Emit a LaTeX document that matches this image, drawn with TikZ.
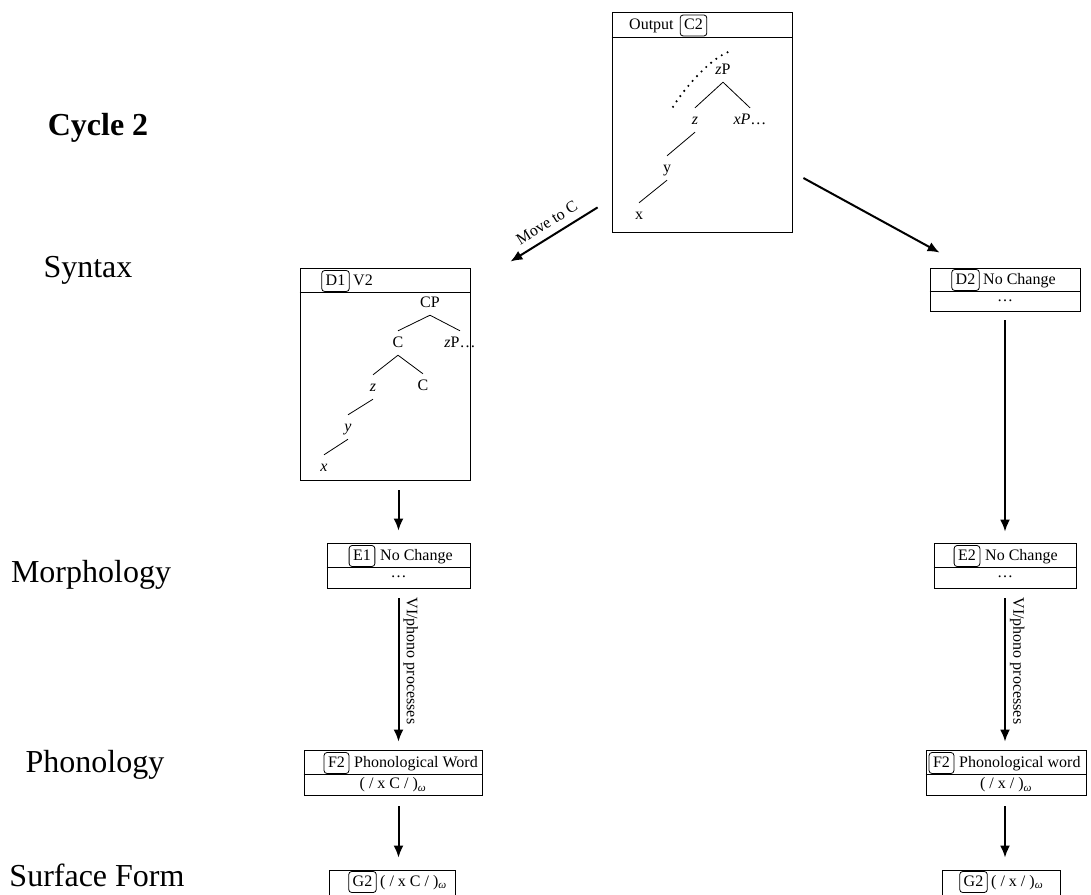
\documentclass[tikz,border=0pt]{standalone}
\usepackage{fontspec}
\setmainfont{Liberation Serif}
\usetikzlibrary{arrows.meta,calc}
\begin{document}
\begin{tikzpicture}[x=1pt,y=-1pt,
  every node/.style={font=\fontsize{16}{19}\selectfont},
  panel/.style={draw, line width=0.8pt, inner sep=0pt},
  divider/.style={line width=0.8pt},
  tagbox/.style={draw, line width=0.8pt, rounded corners=3pt, inner xsep=4pt, inner ysep=0pt, minimum height=21pt, text height=11pt, text depth=3pt},
  hdr/.style={anchor=west, inner sep=0pt, text height=11pt, text depth=3pt},
  tree/.style={inner xsep=0pt, inner ysep=5pt, text height=11pt, text depth=3pt},
  branch/.style={line width=0.8pt},
  arr/.style={line width=2pt, -{Latex[length=12pt,width=10pt]}},
  side/.style={font=\fontsize{32}{38}\selectfont},
  arrlabel/.style={font=\fontsize{16}{19}\selectfont}]
\useasboundingbox (0,0) rectangle (1091,894);

% side labels
\node[side] (cyc) at (98,128) {\textbf{Cycle 2}};
\node[side] (syn) at (88,270) {Syntax};
\node[side] (mor) at (91,575) {Morphology};
\node[side] (pho) at (95,765) {Phonology};
\node[side] (sur) at (97,875) {Surface Form};

% ---- C2 output box
\node[panel, minimum width=180pt, minimum height=220pt] (C2box) at (702,122) {};
\draw[divider] ($(C2box.north west)+(0,26)$) -- ($(C2box.north east)+(0,26)$);
\node[hdr] (C2out) at (629,25.5) {Output};
\node[tagbox] (C2tag) at (693.5,25.5) {C2};
\node[tree] (czP) at (723,70) {\textit{z}P};
\node[tree] (cz) at (695,120) {\textit{z}};
\node[tree] (cxP) at (750,120) {\textit{xP}\dots};
\node[tree] (cy) at (667,168) {y};
\node[tree] (cx) at (639,215) {x};
\draw[branch] (czP.south) -- (cz.north);
\draw[branch] (czP.south) -- (cxP.north);
\draw[branch] (cz.south) -- (cy.north);
\draw[branch] (cy.south) -- (cx.north);
\draw[line width=2.4pt, line cap=round, dash pattern=on 0pt off 6.5pt]
  ($(cz.north)+(-22,-1)$) .. controls ($(cz.north)+(-13,-16)$) and ($(czP.north)+(-12,-2)$) .. ($(czP.north)+(9,-7)$);

% ---- D1 box
\node[panel, minimum width=170pt, minimum height=212pt] (D1box) at (385,374) {};
\draw[divider] ($(D1box.north west)+(0,25)$) -- ($(D1box.north east)+(0,25)$);
\node[tagbox] (D1tag) at (335.5,281) {D1};
\node[hdr] (D1txt) at (353,281) {V2};
\node[tree] (dCP) at (430,303) {CP};
\node[tree] (dC) at (398,343) {C};
\node[tree] (dzP) at (460,343) {\textit{z}P\dots};
\node[tree] (dz) at (373,387) {\textit{z}};
\node[tree] (dC2) at (423,386) {C};
\node[tree] (dy) at (348,427) {\textit{y}};
\node[tree] (dx) at (324,467) {\textit{x}};
\draw[branch] (dCP.south) -- (dC.north);
\draw[branch] (dCP.south) -- (dzP.north);
\draw[branch] (dC.south) -- (dz.north);
\draw[branch] (dC.south) -- (dC2.north);
\draw[branch] (dz.south) -- (dy.north);
\draw[branch] (dy.south) -- (dx.north);

% ---- D2 box
\node[panel, minimum width=150pt, minimum height=43pt] (D2box) at (1005,289.5) {};
\draw[divider] ($(D2box.north west)+(0,24)$) -- ($(D2box.north east)+(0,24)$);
\node[tagbox] (D2tag) at (965.5,280) {D2};
\node[hdr] (D2txt) at (983,280) {No Change};
\node (D2dots) at (1005,301) {\dots};

% ---- E boxes
\node[panel, minimum width=143pt, minimum height=45pt] (E1box) at (398.5,565.5) {};
\draw[divider] ($(E1box.north west)+(0,25)$) -- ($(E1box.north east)+(0,25)$);
\node[tagbox] (E1tag) at (362,556) {E1};
\node[hdr] (E1txt) at (380,556) {No Change};
\node (E1dots) at (398.5,577) {\dots};

\node[panel, minimum width=142pt, minimum height=45pt] (E2box) at (1005,565.5) {};
\draw[divider] ($(E2box.north west)+(0,25)$) -- ($(E2box.north east)+(0,25)$);
\node[tagbox] (E2tag) at (967,556) {E2};
\node[hdr] (E2txt) at (985,556) {No Change};
\node (E2dots) at (1005,577) {\dots};

% ---- F boxes
\node[panel, minimum width=178pt, minimum height=45pt] (F2Lbox) at (393,772.5) {};
\draw[divider] ($(F2Lbox.north west)+(0,25)$) -- ($(F2Lbox.north east)+(0,25)$);
\node[tagbox] (F2Ltag) at (336.5,763) {F2};
\node[hdr] (F2Ltxt) at (354,763) {Phonological Word};
\node (F2Lbody) at (393,785) {( / x C / )\textsubscript{\itshape ω}};

\node[panel, minimum width=160pt, minimum height=45pt] (F2Rbox) at (1006,772.5) {};
\draw[divider] ($(F2Rbox.north west)+(0,25)$) -- ($(F2Rbox.north east)+(0,25)$);
\node[tagbox] (F2Rtag) at (941.5,763) {F2};
\node[hdr] (F2Rtxt) at (959,763) {Phonological word};
\node (F2Rbody) at (1006,785) {( / x / )\textsubscript{\itshape ω}};

% ---- G boxes
\node[panel, minimum width=126pt, minimum height=30pt] (G2Lbox) at (392,885) {};
\node[tagbox] (G2Ltag) at (362.5,882) {G2};
\node[hdr] (G2Ltxt) at (380,882) {( / x C / )\textsubscript{\itshape ω}};

\node[panel, minimum width=118pt, minimum height=30pt] (G2Rbox) at (1001,885) {};
\node[tagbox] (G2Rtag) at (973.5,882) {G2};
\node[hdr] (G2Rtxt) at (991,882) {( / x / )\textsubscript{\itshape ω}};

% ---- arrows
\draw[arr] ($(C2box.south west)+(-14,-25)$) -- node[arrlabel, midway, sloped, above=4pt] {Move to C} ($(D1box.north east)+(40,-6)$);
\draw[arr] ($(C2box.east)+(11,56)$) -- ($(D2box.north west)+(10,-15)$);
\draw[arr, shorten <=10pt, shorten >=12pt] (D1box.south -| E1box.north) -- (E1box.north);
\draw[arr, shorten <=9pt, shorten >=11pt] (D2box.south -| E2box.north) -- (E2box.north);
\draw[arr, shorten <=10pt, shorten >=8pt] (E1box.south) -- node[arrlabel, pos=0.45, rotate=-90, anchor=south, inner sep=4pt] {VI/phono processes} (E1box.south |- F2Lbox.north);
\draw[arr, shorten <=10pt, shorten >=8pt] (E2box.south) -- node[arrlabel, pos=0.45, rotate=-90, anchor=south, inner sep=4pt] {VI/phono processes} (E2box.south |- F2Rbox.north);
\draw[arr, shorten <=11pt, shorten >=12pt] (E1box.south |- F2Lbox.south) -- (E1box.south |- G2Lbox.north);
\draw[arr, shorten <=11pt, shorten >=12pt] (E2box.south |- F2Rbox.south) -- (E2box.south |- G2Rbox.north);
\end{tikzpicture}
\end{document}
